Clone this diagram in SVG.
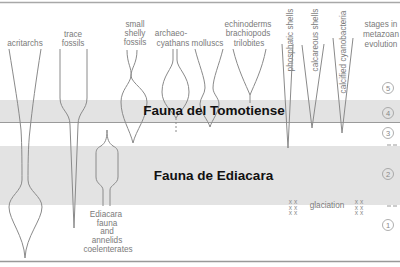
<svg xmlns="http://www.w3.org/2000/svg" width="400" height="267" viewBox="0 0 400 267">
<style>
.ln{fill:none;stroke:#8a8a8a;stroke-width:1}
.lb{font-family:"Liberation Sans",Arial,sans-serif;font-size:8.2px;fill:#7a7a7a;text-anchor:middle}
.big{font-family:"Liberation Sans",Arial,sans-serif;font-size:13.5px;font-weight:bold;fill:#111;text-anchor:middle}
.num{font-family:"Liberation Sans",Arial,sans-serif;font-size:7.5px;fill:#888;text-anchor:middle}
.cir{fill:none;stroke:#999;stroke-width:0.8}
.xx{font-family:"Liberation Sans",Arial,sans-serif;font-size:6.5px;fill:#8a8a8a;text-anchor:middle}
</style>
<rect width="400" height="267" fill="#fff"/>
<g id="bands">
<rect x="0" y="100" width="400" height="22.5" fill="#e3e3e3"/>
<rect x="0" y="146" width="400" height="59" fill="#e3e3e3"/>
<line x1="0" y1="122.5" x2="400" y2="122.5" stroke="#9a9a9a" stroke-width="1"/>
<line x1="0" y1="2.5" x2="400" y2="2.5" stroke="#a8a8a8" stroke-width="1.5"/>
<line x1="0" y1="261.5" x2="400" y2="261.5" stroke="#999" stroke-width="1.5"/>
</g>
<g id="acritarchs">
<text class="lb" x="25" y="46">acritarchs</text>
<path class="ln" d="M9,49 C14,80 19,110 21,130 C22,145 22,170 22,180 C22,191 9,196 9,207 C9,220 24,236 25,258"/>
<path class="ln" d="M41,49 C36,80 32,110 30,130 C28,145 28,170 28,180 C28,191 42,196 42,207 C42,220 26,236 25,258"/>
</g>
<g id="trace-fossils">
<text class="lb" x="73" y="37">trace</text>
<text class="lb" x="73" y="46">fossils</text>
<path class="ln" d="M60,49 L60,98 C60,110 70,112 70,125 L74,228"/>
<path class="ln" d="M87,49 L87,98 C87,110 78,112 78,125 L74,228"/>
</g>
<g id="small-shelly-fossils">
<text class="lb" x="135" y="27">small</text>
<text class="lb" x="135" y="36">shelly</text>
<text class="lb" x="135" y="45">fossils</text>
<path class="ln" d="M127,50 C127,64 132,68 131,76 C130,84 121,90 121,102 C121,118 130,130 133,143"/>
<path class="ln" d="M137,50 C137,64 131,68 131,76 C132,84 147,90 147,102 C147,118 136,130 133,143"/>
</g>
<g id="archaeocyathans">
<text class="lb" x="171" y="36">archaeo-</text>
<text class="lb" x="173" y="46">cyathans</text>
<path class="ln" d="M173,49 L173,60 C173,68 162,76 162,92 C162,104 172,111 176,118"/>
<path class="ln" d="M177,49 L177,60 C177,68 189,76 189,92 C189,104 180,111 176,118"/>
<path class="ln" d="M176,118 L176,133" stroke-dasharray="2,2"/>
</g>
<g id="molluscs">
<text class="lb" x="207.5" y="46">molluscs</text>
<path class="ln" d="M195,49 C199,65 205,78 205,88 C205,94 200,98 200,104 C200,112 208,120 210,127"/>
<path class="ln" d="M223,49 C219,65 213,78 213,88 C213,94 219,98 219,104 C219,112 212,120 210,127"/>
</g>
<g id="echinoderms">
<text class="lb" x="248" y="27">echinoderms</text>
<text class="lb" x="248" y="36">brachiopods</text>
<text class="lb" x="249" y="46">trilobites</text>
<path class="ln" d="M233,49 C238,70 246,85 250,95 L250,103"/>
<path class="ln" d="M266,49 C262,70 254,85 250,95"/>
</g>
<g id="phosphatic-shells">
<text class="lb" transform="translate(293,40) rotate(-90)">phosphatic shells</text>
<path class="ln" d="M282,44 L288,148 L293,44"/>
</g>
<g id="calcareous-shells">
<text class="lb" transform="translate(318,40) rotate(-90)">calcareous shells</text>
<path class="ln" d="M302,45 L312,128 L324,44"/>
</g>
<g id="calcified-cyanobacteria">
<text class="lb" transform="translate(346,52) rotate(-90)">calcified cyanobacteria</text>
<path class="ln" d="M333,38 L342,133 L353,38"/>
</g>
<g id="ediacara-fauna">
<path class="ln" d="M107,130 C107,140 109,143 113,146 C117,148 118,150 118,154 L118,177 C118,184 110,185 110,190 L110,206"/>
<path class="ln" d="M107,130 C107,140 105,143 101,146 C97,148 96,150 96,154 L96,177 C96,184 103,185 103,190 L103,206"/>
<text class="lb" x="106" y="217">Ediacara</text>
<text class="lb" x="107" y="225.5">fauna</text>
<text class="lb" x="107" y="234">and</text>
<text class="lb" x="107" y="243">annelids</text>
<text class="lb" x="108" y="252">coelenterates</text>
</g>
<g id="glaciation">
<text class="lb" x="327" y="208">glaciation</text>
<text class="xx" x="293" y="204">x x</text>
<text class="xx" x="293" y="209.5">x x</text>
<text class="xx" x="293" y="215">x x</text>
<text class="xx" x="359" y="204">x x</text>
<text class="xx" x="359" y="209.5">x x</text>
<text class="xx" x="359" y="215">x x</text>
</g>
<g id="stages">
<text class="lb" x="381" y="27">stages in</text>
<text class="lb" x="381" y="37">metazoan</text>
<text class="lb" x="381" y="47">evolution</text>
<circle class="cir" cx="388" cy="88" r="5.5"/><text class="num" x="388" y="90.7">5</text>
<circle class="cir" cx="388" cy="113" r="5.5"/><text class="num" x="388" y="115.7">4</text>
<circle class="cir" cx="388" cy="133" r="5.5"/><text class="num" x="388" y="135.7">3</text>
<circle class="cir" cx="388" cy="174" r="5.5"/><text class="num" x="388" y="176.7">2</text>
<circle class="cir" cx="388" cy="225" r="5.5"/><text class="num" x="388" y="227.7">1</text>
<line x1="387" y1="145" x2="398" y2="145" stroke="#999" stroke-width="1" stroke-dasharray="4,2"/>
<line x1="387" y1="206" x2="398" y2="206" stroke="#999" stroke-width="1" stroke-dasharray="4,2"/>
</g>
<g id="fauna-labels">
<text class="big" x="214" y="115">Fauna del Tomotiense</text>
<text class="big" x="213.5" y="180">Fauna de Ediacara</text>
</g>
</svg>
